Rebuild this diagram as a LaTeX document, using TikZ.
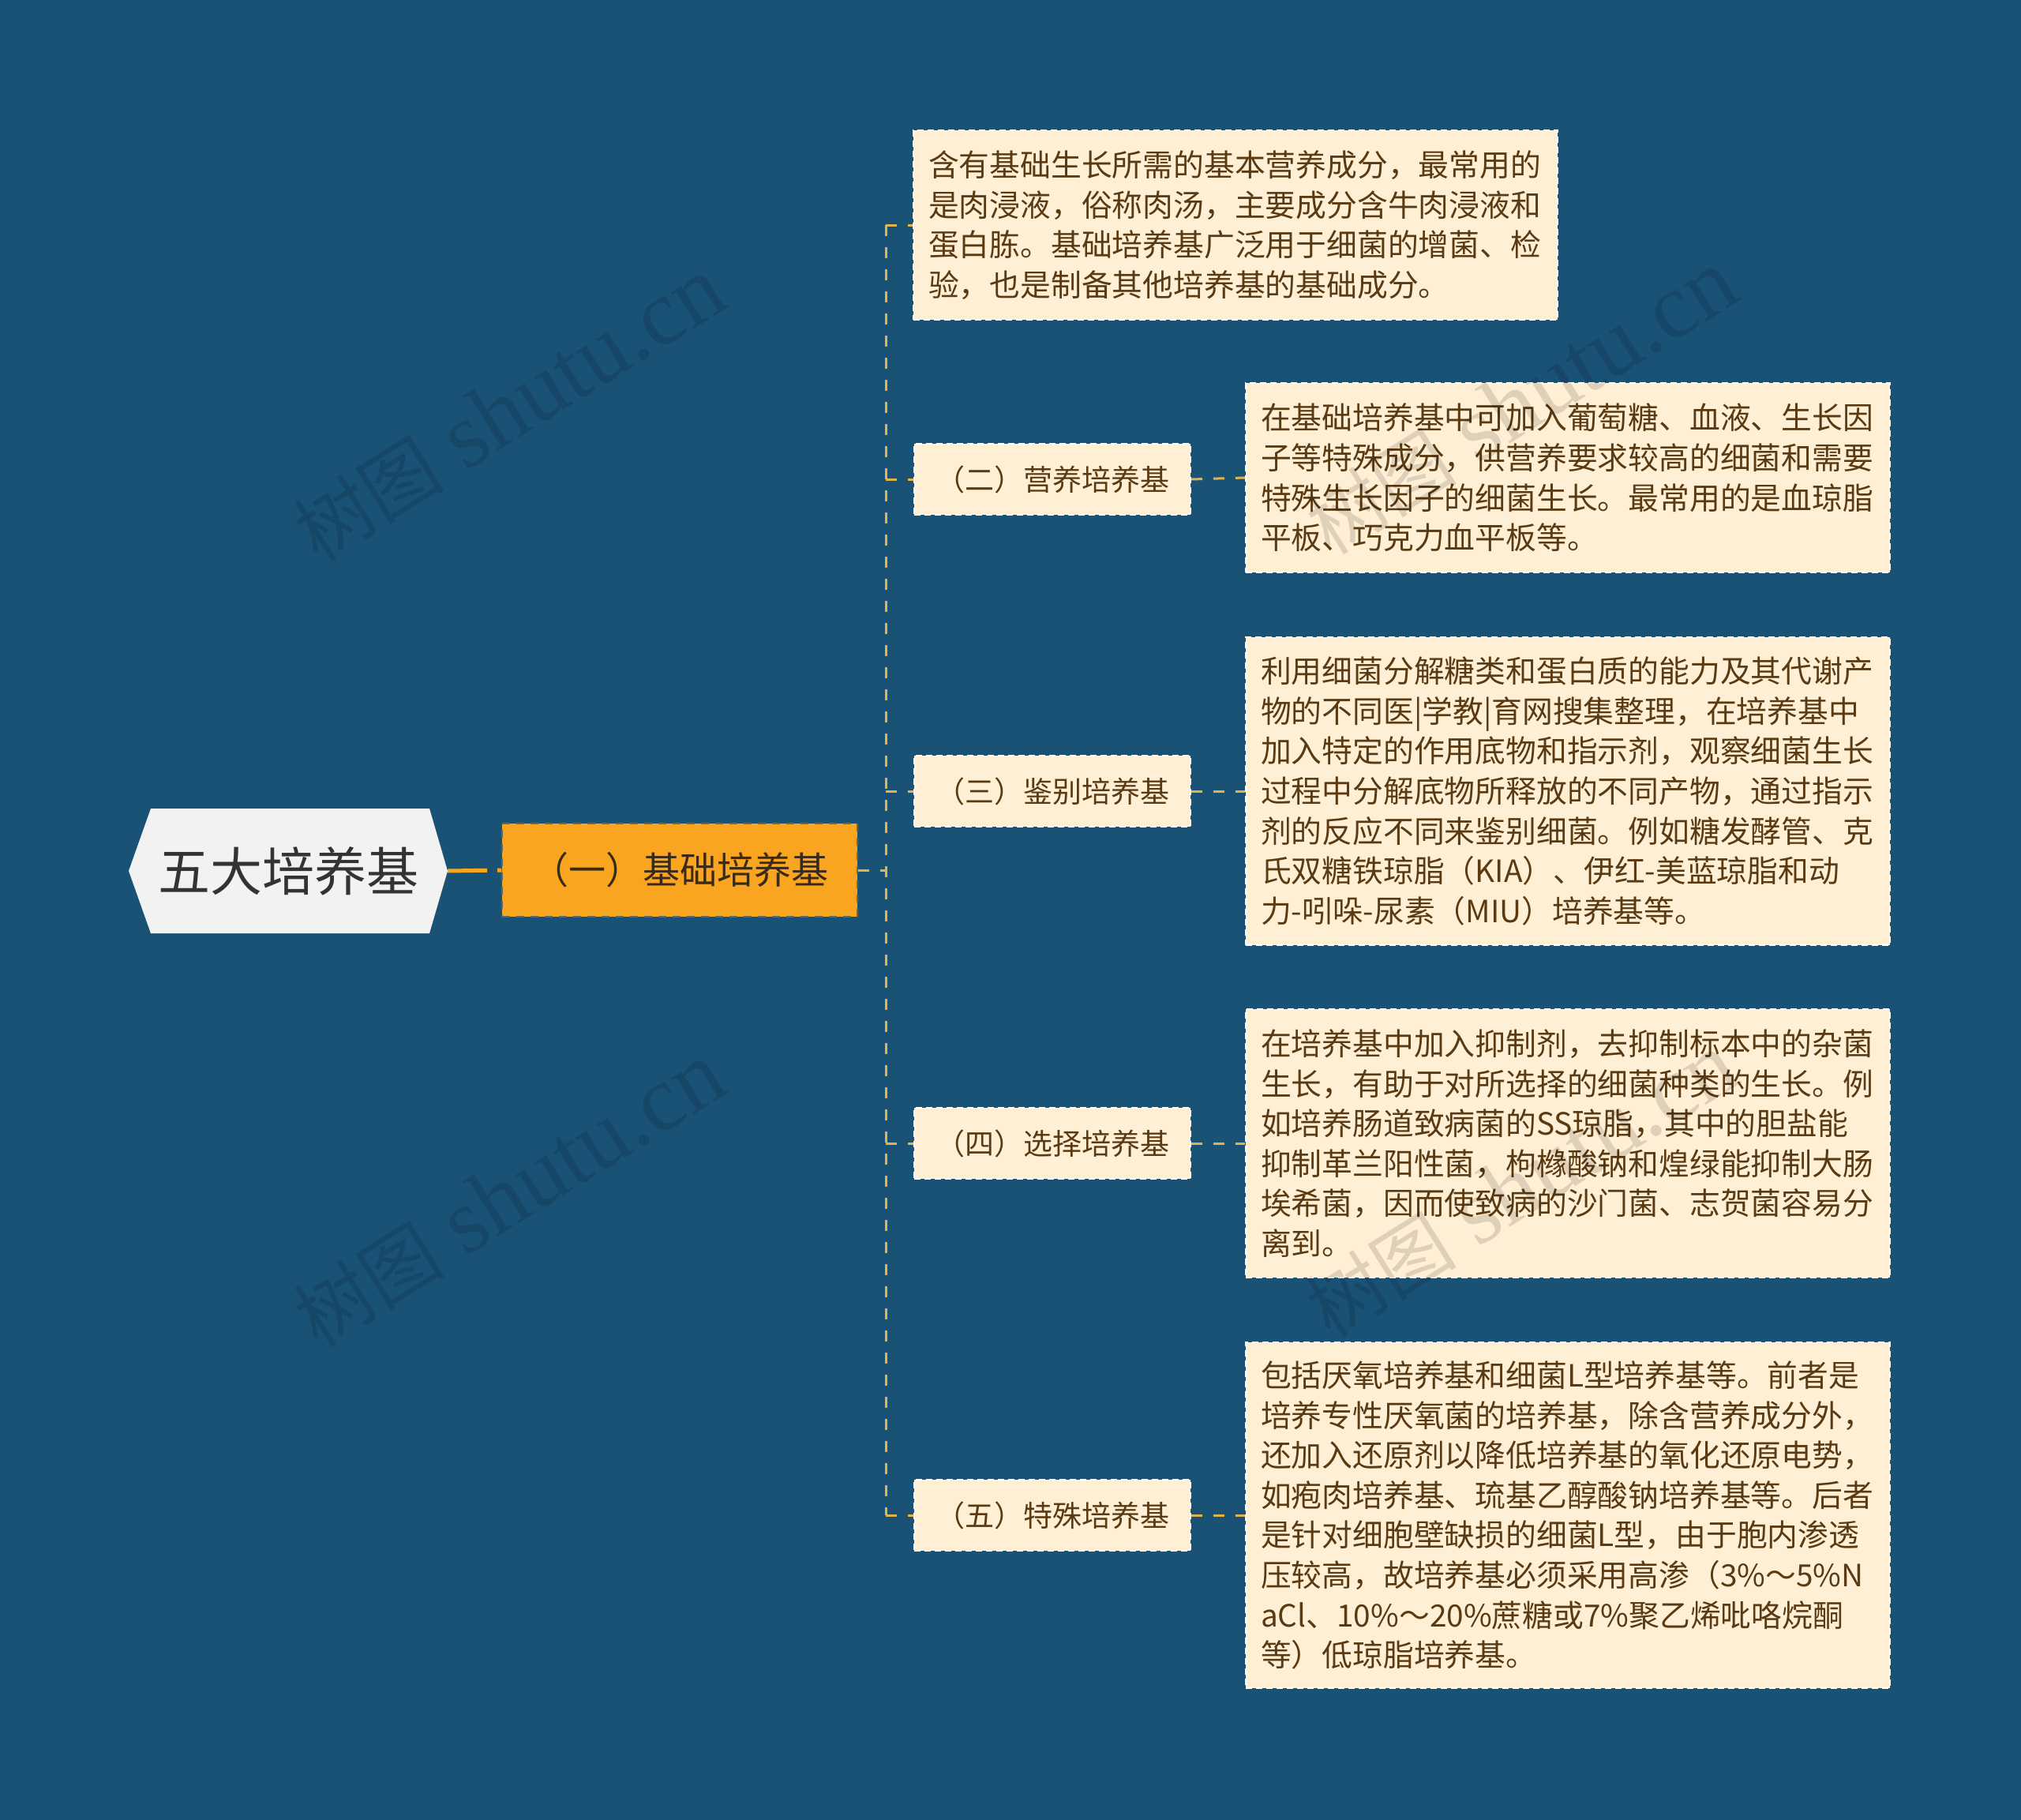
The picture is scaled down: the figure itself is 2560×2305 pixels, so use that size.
\documentclass[tikz,border=0pt]{standalone}
\usepackage{fontspec}
\setmainfont{Noto Sans CJK SC}
\newfontfamily\wmlatin{Liberation Serif}
\definecolor{bg}{HTML}{1A5276}
\definecolor{leaffill}{HTML}{FFF0D5}
\definecolor{leaftext}{HTML}{5A3A12}
\definecolor{orangefill}{HTML}{F9A51F}
\definecolor{orangetext}{HTML}{3B2A17}
\definecolor{goldline}{HTML}{E3B24F}
\definecolor{rootfill}{HTML}{F2F2F2}
\definecolor{roottext}{HTML}{333333}
\newcommand{\wmtext}{{\fontsize{96}{100}\selectfont 树图}\hspace{28pt}{\wmlatin\fontsize{118}{124}\selectfont shutu.cn}}
\begin{document}
\begin{tikzpicture}[x=1pt,y=-1pt,
  leafbox/.style={fill=leaffill, draw=white, dash pattern=on 8pt off 5pt, line width=2pt,
    text=leaftext, font=\fontsize{38.8}{50.6}\selectfont, align=left,
    text width=778pt, inner xsep=19pt, inner ysep=0pt},
  labelbox/.style={fill=leaffill, draw=white, dash pattern=on 8pt off 5pt, line width=2pt,
    text=leaftext, font=\fontsize{37}{44}\selectfont,
    minimum width=350pt, minimum height=90pt, inner sep=0pt},
  orangebox/.style={fill=orangefill, draw=bg!70!orangefill, dash pattern=on 10pt off 8pt, line width=1.5pt,
    text=orangetext, font=\fontsize{47}{56}\selectfont,
    minimum width=450pt, minimum height=118pt, inner sep=0pt},
  rootbox/.style={text=roottext, font=\fontsize{66}{76}\selectfont,
    minimum width=404pt, minimum height=158pt, inner sep=0pt},
  goldlink/.style={draw=goldline, line width=3pt, dash pattern=on 14pt off 14pt},
  rootlink/.style={draw=orangefill, line width=5pt, dash pattern=on 50pt off 13pt},
  wm/.style={rotate=32, text=black, text opacity=0.13, inner sep=0pt}
]
\fill[bg] (0,0) rectangle (2560,2305);
\useasboundingbox (0,0) rectangle (2560,2305);

% root hexagon
\fill[rootfill] (163,1103) -- (191,1024) -- (544,1024) -- (567,1103) -- (544,1182) -- (191,1182) -- cycle;
\node[rootbox] (root) at (365,1103) {五大培养基};

% first level
\node[orangebox] (o) at (861,1102) {（一）基础培养基};

% leaves
\node[leafbox, minimum height=240pt] (l1) at (1565,285) {含有基础生长所需的基本营养成分，最常用的\\是肉浸液，俗称肉汤，主要成分含牛肉浸液和\\蛋白胨。基础培养基广泛用于细菌的增菌、检\\验，也是制备其他培养基的基础成分。};

\node[labelbox] (c2) at (1333,607) {（二）营养培养基};
\node[labelbox] (c3) at (1333,1002) {（三）鉴别培养基};
\node[labelbox] (c4) at (1333,1448) {（四）选择培养基};
\node[labelbox] (c5) at (1333,1919) {（五）特殊培养基};

\node[leafbox, minimum height=240pt] (l2) at (1986,605) {在基础培养基中可加入葡萄糖、血液、生长因\\子等特殊成分，供营养要求较高的细菌和需要\\特殊生长因子的细菌生长。最常用的是血琼脂\\平板、巧克力血平板等。};

\node[leafbox, minimum height=390pt] (l3) at (1986,1002) {利用细菌分解糖类和蛋白质的能力及其代谢产\\物的不同医|学教|育网搜集整理，在培养基中\\加入特定的作用底物和指示剂，观察细菌生长\\过程中分解底物所释放的不同产物，通过指示\\剂的反应不同来鉴别细菌。例如糖发酵管、克\\氏双糖铁琼脂（KIA）、伊红-美蓝琼脂和动\\力-吲哚-尿素（MIU）培养基等。};

\node[leafbox, minimum height=340pt] (l4) at (1986,1448) {在培养基中加入抑制剂，去抑制标本中的杂菌\\生长，有助于对所选择的细菌种类的生长。例\\如培养肠道致病菌的SS琼脂，其中的胆盐能\\抑制革兰阳性菌，枸橼酸钠和煌绿能抑制大肠\\埃希菌，因而使致病的沙门菌、志贺菌容易分\\离到。};

\node[leafbox, minimum height=438pt] (l5) at (1986,1919) {包括厌氧培养基和细菌L型培养基等。前者是\\培养专性厌氧菌的培养基，除含营养成分外，\\还加入还原剂以降低培养基的氧化还原电势，\\如疱肉培养基、琉基乙醇酸钠培养基等。后者\\是针对细胞壁缺损的细菌L型，由于胞内渗透\\压较高，故培养基必须采用高渗（3\%～5\%N\\aCl、10\%～20\%蔗糖或7\%聚乙烯吡咯烷酮\\等）低琼脂培养基。};

% connectors
\coordinate (t1) at (1122,285);
\coordinate (t5) at (1122,1919);
\draw[rootlink] (root.east) -- (o.west);
\draw[goldlink] (o.east) -- (o.east -| t1);
\draw[goldlink] (t1) -- (t5);
\draw[goldlink] (t1) -- (l1.west);
\draw[goldlink] (c2.west -| t1) -- (c2.west);
\draw[goldlink] (c3.west -| t1) -- (c3.west);
\draw[goldlink] (c4.west -| t1) -- (c4.west);
\draw[goldlink] (t5) -- (c5.west);
\draw[goldlink] (c2.east) -- (l2.west);
\draw[goldlink] (c3.east) -- (l3.west);
\draw[goldlink] (c4.east) -- (l4.west);
\draw[goldlink] (c5.east) -- (l5.west);

% watermarks
\node[wm] (w1) at (645,519) {\wmtext};
\node[wm] (w2) at (645,1514) {\wmtext};
\node[wm] (w3) at (1927,510) {\wmtext};
\node[wm] (w4) at (1927,1502) {\wmtext};
\end{tikzpicture}
\end{document}
